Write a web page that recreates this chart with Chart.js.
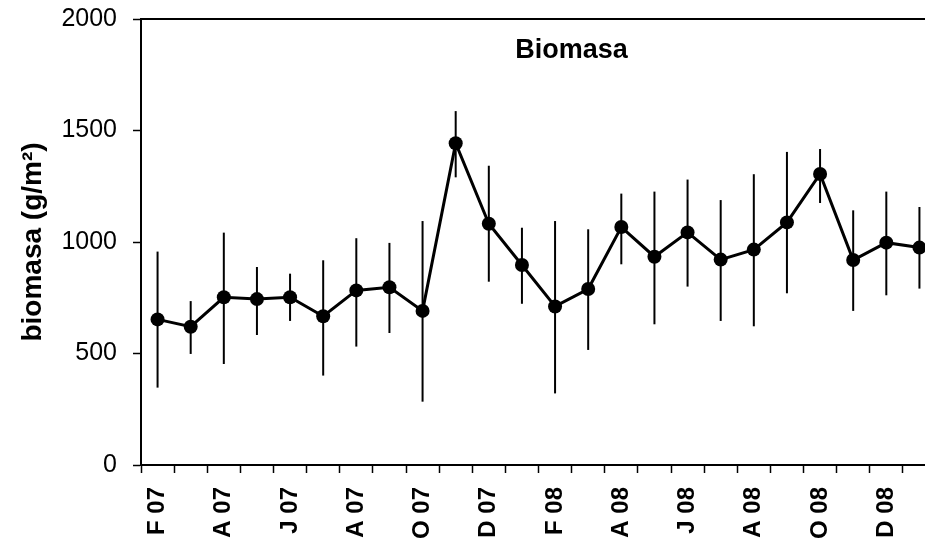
<!DOCTYPE html>
<html>
<head>
<meta charset="utf-8">
<title>Biomasa</title>
<script src="https://cdn.jsdelivr.net/npm/chart.js@4/dist/chart.umd.min.js"></script>
<style>
  html, body { margin: 0; padding: 0; background: #fff; overflow: hidden; }
  #wrap { width: 943px; height: 543px; }
</style>
</head>
<body>
<div id="wrap"><canvas id="biomasa-chart" width="943" height="543"></canvas></div>
<script>
// Monthly samples, Feb 2007 - Jan 2009
const months = ['F 07', 'M 07', 'A 07', 'M 07', 'J 07', 'J 07', 'A 07', 'S 07', 'O 07', 'N 07', 'D 07', 'J 08',
                'F 08', 'M 08', 'A 08', 'M 08', 'J 08', 'J 08', 'A 08', 'S 08', 'O 08', 'N 08', 'D 08', 'J 09'];

// mean biomass (g/m2)
const biomasa = [653, 620, 752, 744, 752, 667, 783, 797, 691, 1443, 1082, 897,
                 711, 789, 1067, 934, 1043, 921, 966, 1088, 1305, 919, 997, 975];

// error bar ends
const errHigh = [957, 735, 1042, 888, 858, 918, 1017, 996, 1094, 1587, 1342, 1064,
                 1094, 1057, 1217, 1226, 1280, 1188, 1304, 1404, 1417, 1142, 1226, 1157];
const errLow  = [347, 498, 453, 583, 646, 401, 531, 592, 284, 1290, 822, 723,
                 321, 516, 900, 631, 800, 646, 622, 770, 1175, 691, 761, 791];

const yTicks = [0, 500, 1000, 1500, 2000];

const FONT = "'Liberation Sans', Arial, sans-serif";

// vertical error bars, no caps
const errorBars = {
  id: 'errorBars',
  beforeDatasetsDraw(chart) {
    const { ctx, scales: { x, y } } = chart;
    ctx.save();
    ctx.strokeStyle = '#000';
    ctx.lineWidth = 2;
    biomasa.forEach((v, i) => {
      const px = x.getPixelForValue(i);
      ctx.beginPath();
      ctx.moveTo(px, y.getPixelForValue(errHigh[i]));
      ctx.lineTo(px, y.getPixelForValue(errLow[i]));
      ctx.stroke();
    });
    ctx.restore();
  }
};

// top frame line + title inside the plot
const frame = {
  id: 'frame',
  afterDraw(chart) {
    const { ctx, chartArea } = chart;
    ctx.save();
    ctx.strokeStyle = '#000';
    ctx.lineWidth = 2;
    ctx.beginPath();
    ctx.moveTo(chartArea.left, chartArea.top);
    ctx.lineTo(chart.width, chartArea.top);
    ctx.stroke();

    ctx.fillStyle = '#000';
    ctx.font = 'bold 27px ' + FONT;
    ctx.textAlign = 'center';
    ctx.textBaseline = 'middle';
    ctx.fillText('Biomasa', chartArea.left + chartArea.width * 0.5416, chartArea.top + 32);
    ctx.restore();
  }
};

new Chart(document.getElementById('biomasa-chart'), {
  type: 'line',
  data: {
    labels: months,
    datasets: [{
      data: biomasa,
      borderColor: '#000',
      backgroundColor: '#000',
      borderWidth: 3,
      pointRadius: 7,
      pointHoverRadius: 7,
      pointBackgroundColor: '#000',
      pointBorderWidth: 0,
      tension: 0
    }]
  },
  options: {
    responsive: false,
    animation: false,
    layout: { padding: { top: 19, left: 0, right: 0, bottom: 0 } },
    plugins: {
      legend: { display: false },
      tooltip: { enabled: false }
    },
    scales: {
      x: {
        offset: true,
        grid: {
          offset: true,
          drawOnChartArea: false,
          drawTicks: true,
          tickLength: 8,
          tickWidth: 1.5,
          tickColor: '#000'
        },
        border: { color: '#000', width: 2 },
        ticks: {
          autoSkip: false,
          maxRotation: 90,
          minRotation: 90,
          padding: 14,
          color: '#000',
          font: { family: FONT, size: 24, weight: 'bold' },
          callback: (val, i) => (i % 2 === 0 ? months[i] : '')
        },
        afterFit(scale) {
          scale.height = 78;
          scale.paddingLeft = 0;
          scale.paddingRight = 0;
        }
      },
      y: {
        min: 0,
        max: 2000,
        afterBuildTicks(scale) { scale.ticks = yTicks.map(v => ({ value: v })); },
        grid: {
          drawOnChartArea: false,
          tickLength: 8,
          tickWidth: 1.5,
          tickColor: '#000'
        },
        border: { color: '#000', width: 2 },
        ticks: {
          padding: 16,
          color: '#000',
          font: { family: FONT, size: 25 },
          callback: v => String(v)
        },
        title: {
          display: true,
          text: 'biomasa (g/m²)',
          color: '#000',
          padding: { top: 16, bottom: 0 },
          font: { family: FONT, size: 28, weight: 'bold' }
        },
        afterFit(scale) {
          scale.width = 141;
          scale.paddingTop = 0;
          scale.paddingBottom = 0;
        }
      }
    }
  },
  plugins: [errorBars, frame]
});
</script>
</body>
</html>
